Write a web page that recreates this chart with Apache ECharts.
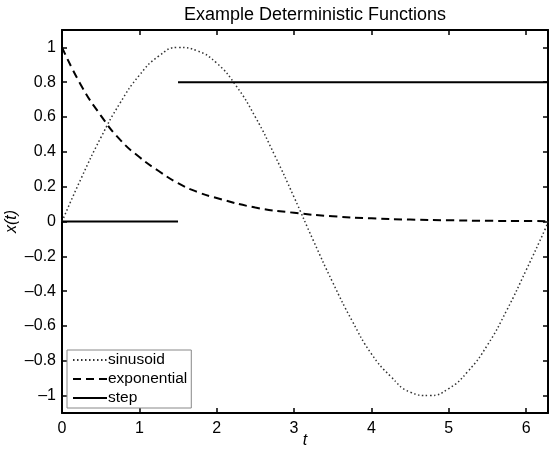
<!doctype html>
<html>
<head>
<meta charset="utf-8">
<title>Example Deterministic Functions</title>
<script src="https://cdn.jsdelivr.net/npm/echarts@6/dist/echarts.min.js"></script>
<style>
  html, body { margin: 0; padding: 0; background: #fff; }
  #chart { width: 550px; height: 454px; }
</style>
</head>
<body>
<div id="chart"></div>
<script>
// values
var tSin = [0, 0.25, 0.5, 0.75, 1, 1.25, 1.5, 1.75, 2, 2.25, 2.5, 2.75, 3, 3.25, 3.5, 3.75, 4, 4.25, 4.5, 4.75, 5, 5.25, 5.5, 5.75, 6, 6.25, 6.2832];
var sinusoid = [0, 0.25, 0.48, 0.68, 0.84, 0.95, 1.0, 0.98, 0.91, 0.78, 0.6, 0.38, 0.14, -0.11, -0.35, -0.57, -0.76, -0.89, -0.98, -1.0, -0.96, -0.86, -0.71, -0.51, -0.28, -0.04, 0];
var tExp = [0, 0.25, 0.5, 0.75, 1, 1.25, 1.5, 1.75, 2, 2.5, 3, 3.5, 4, 4.5, 5, 5.5, 6, 6.2832];
var exponential = [1, 0.78, 0.61, 0.47, 0.37, 0.29, 0.22, 0.17, 0.135, 0.08, 0.05, 0.03, 0.018, 0.011, 0.007, 0.004, 0.0025, 0.002];
var tStep = [0, 1.5, 1.5, 1.5, 6.2832];
var step = [0, 0, '-', 0.8, 0.8];
var xTicks = [0, 1, 2, 3, 4, 5, 6];
var yTicks = [-1, -0.8, -0.6, -0.4, -0.2, 0, 0.2, 0.4, 0.6, 0.8, 1];

function pairs(xs, ys) {
  var out = [];
  for (var i = 0; i < xs.length; i++) out.push([xs[i], ys[i]]);
  return out;
}
function fmt(v) {
  return String(Math.round(v * 10) / 10).replace('-', '\u2013');
}

var font = 'Liberation Sans, Arial, Helvetica, sans-serif';
var axisLine = { show: true, onZero: false, lineStyle: { color: '#000', width: 2 } };

function xAxis(primary) {
  return {
    type: 'value', min: 0, max: 6.2832,
    position: primary ? 'bottom' : 'top',
    name: primary ? 't' : '', nameLocation: 'middle', nameGap: 20, nameMoveOverlap: false,
    nameTextStyle: { fontFamily: font, fontSize: 16, fontStyle: 'italic', color: '#000' },
    axisLine: axisLine,
    axisTick: { show: true, inside: true, length: 5, customValues: xTicks, lineStyle: { color: '#000', width: 1.5 } },
    axisLabel: { show: primary, customValues: xTicks, formatter: fmt, fontFamily: font, fontSize: 16, color: '#000', margin: 8 },
    splitLine: { show: false }
  };
}
function yAxis(primary) {
  return {
    type: 'value', min: -1.1, max: 1.1,
    position: primary ? 'left' : 'right',
    name: primary ? 'x(t)' : '', nameLocation: 'middle', nameGap: 42, nameMoveOverlap: false,
    nameTextStyle: { fontFamily: font, fontSize: 16, fontStyle: 'italic', color: '#000' },
    axisLine: axisLine,
    axisTick: { show: true, inside: true, length: 5, customValues: yTicks, lineStyle: { color: '#000', width: 1.5 } },
    axisLabel: { show: primary, customValues: yTicks, formatter: fmt, fontFamily: font, fontSize: 16, color: '#000', margin: 6 },
    splitLine: { show: false }
  };
}

var option = {
  animation: false,
  backgroundColor: '#fff',
  title: {
    text: 'Example Deterministic Functions',
    left: 310, top: 1, textAlign: 'center',
    textStyle: { fontFamily: font, fontSize: 18, fontWeight: 'normal', color: '#000' }
  },
  grid: { left: 62, right: 2, top: 30, bottom: 41, outerBoundsMode: 'none' },
  legend: {
    orient: 'vertical', left: 67, top: 350,
    backgroundColor: '#fff', borderColor: '#888', borderWidth: 1, borderRadius: 0,
    padding: [2, 4, 2, 5], itemGap: 3, itemWidth: 34, itemHeight: 16,
    itemStyle: { opacity: 0 },
    textStyle: { fontFamily: font, fontSize: 15.5, color: '#000', padding: [0, 0, 0, -4] },
    data: ['sinusoid', 'exponential', 'step']
  },
  xAxis: [xAxis(true), xAxis(false)],
  yAxis: [yAxis(true), yAxis(false)],
  series: [
    {
      name: 'sinusoid', type: 'line', smooth: true, symbol: 'none',
      data: pairs(tSin, sinusoid),
      itemStyle: { color: '#333' },
      lineStyle: { color: '#333', width: 1.5, type: [1.5, 2.5] }
    },
    {
      name: 'exponential', type: 'line', smooth: true, symbol: 'none',
      data: pairs(tExp, exponential),
      itemStyle: { color: '#000' },
      lineStyle: { color: '#000', width: 2, type: [8, 5] }
    },
    {
      name: 'step', type: 'line', symbol: 'none',
      data: pairs(tStep, step),
      itemStyle: { color: '#000' },
      lineStyle: { color: '#000', width: 2 }
    }
  ]
};

var myChart = echarts.init(document.getElementById('chart'));
myChart.setOption(option);
</script>
</body>
</html>
